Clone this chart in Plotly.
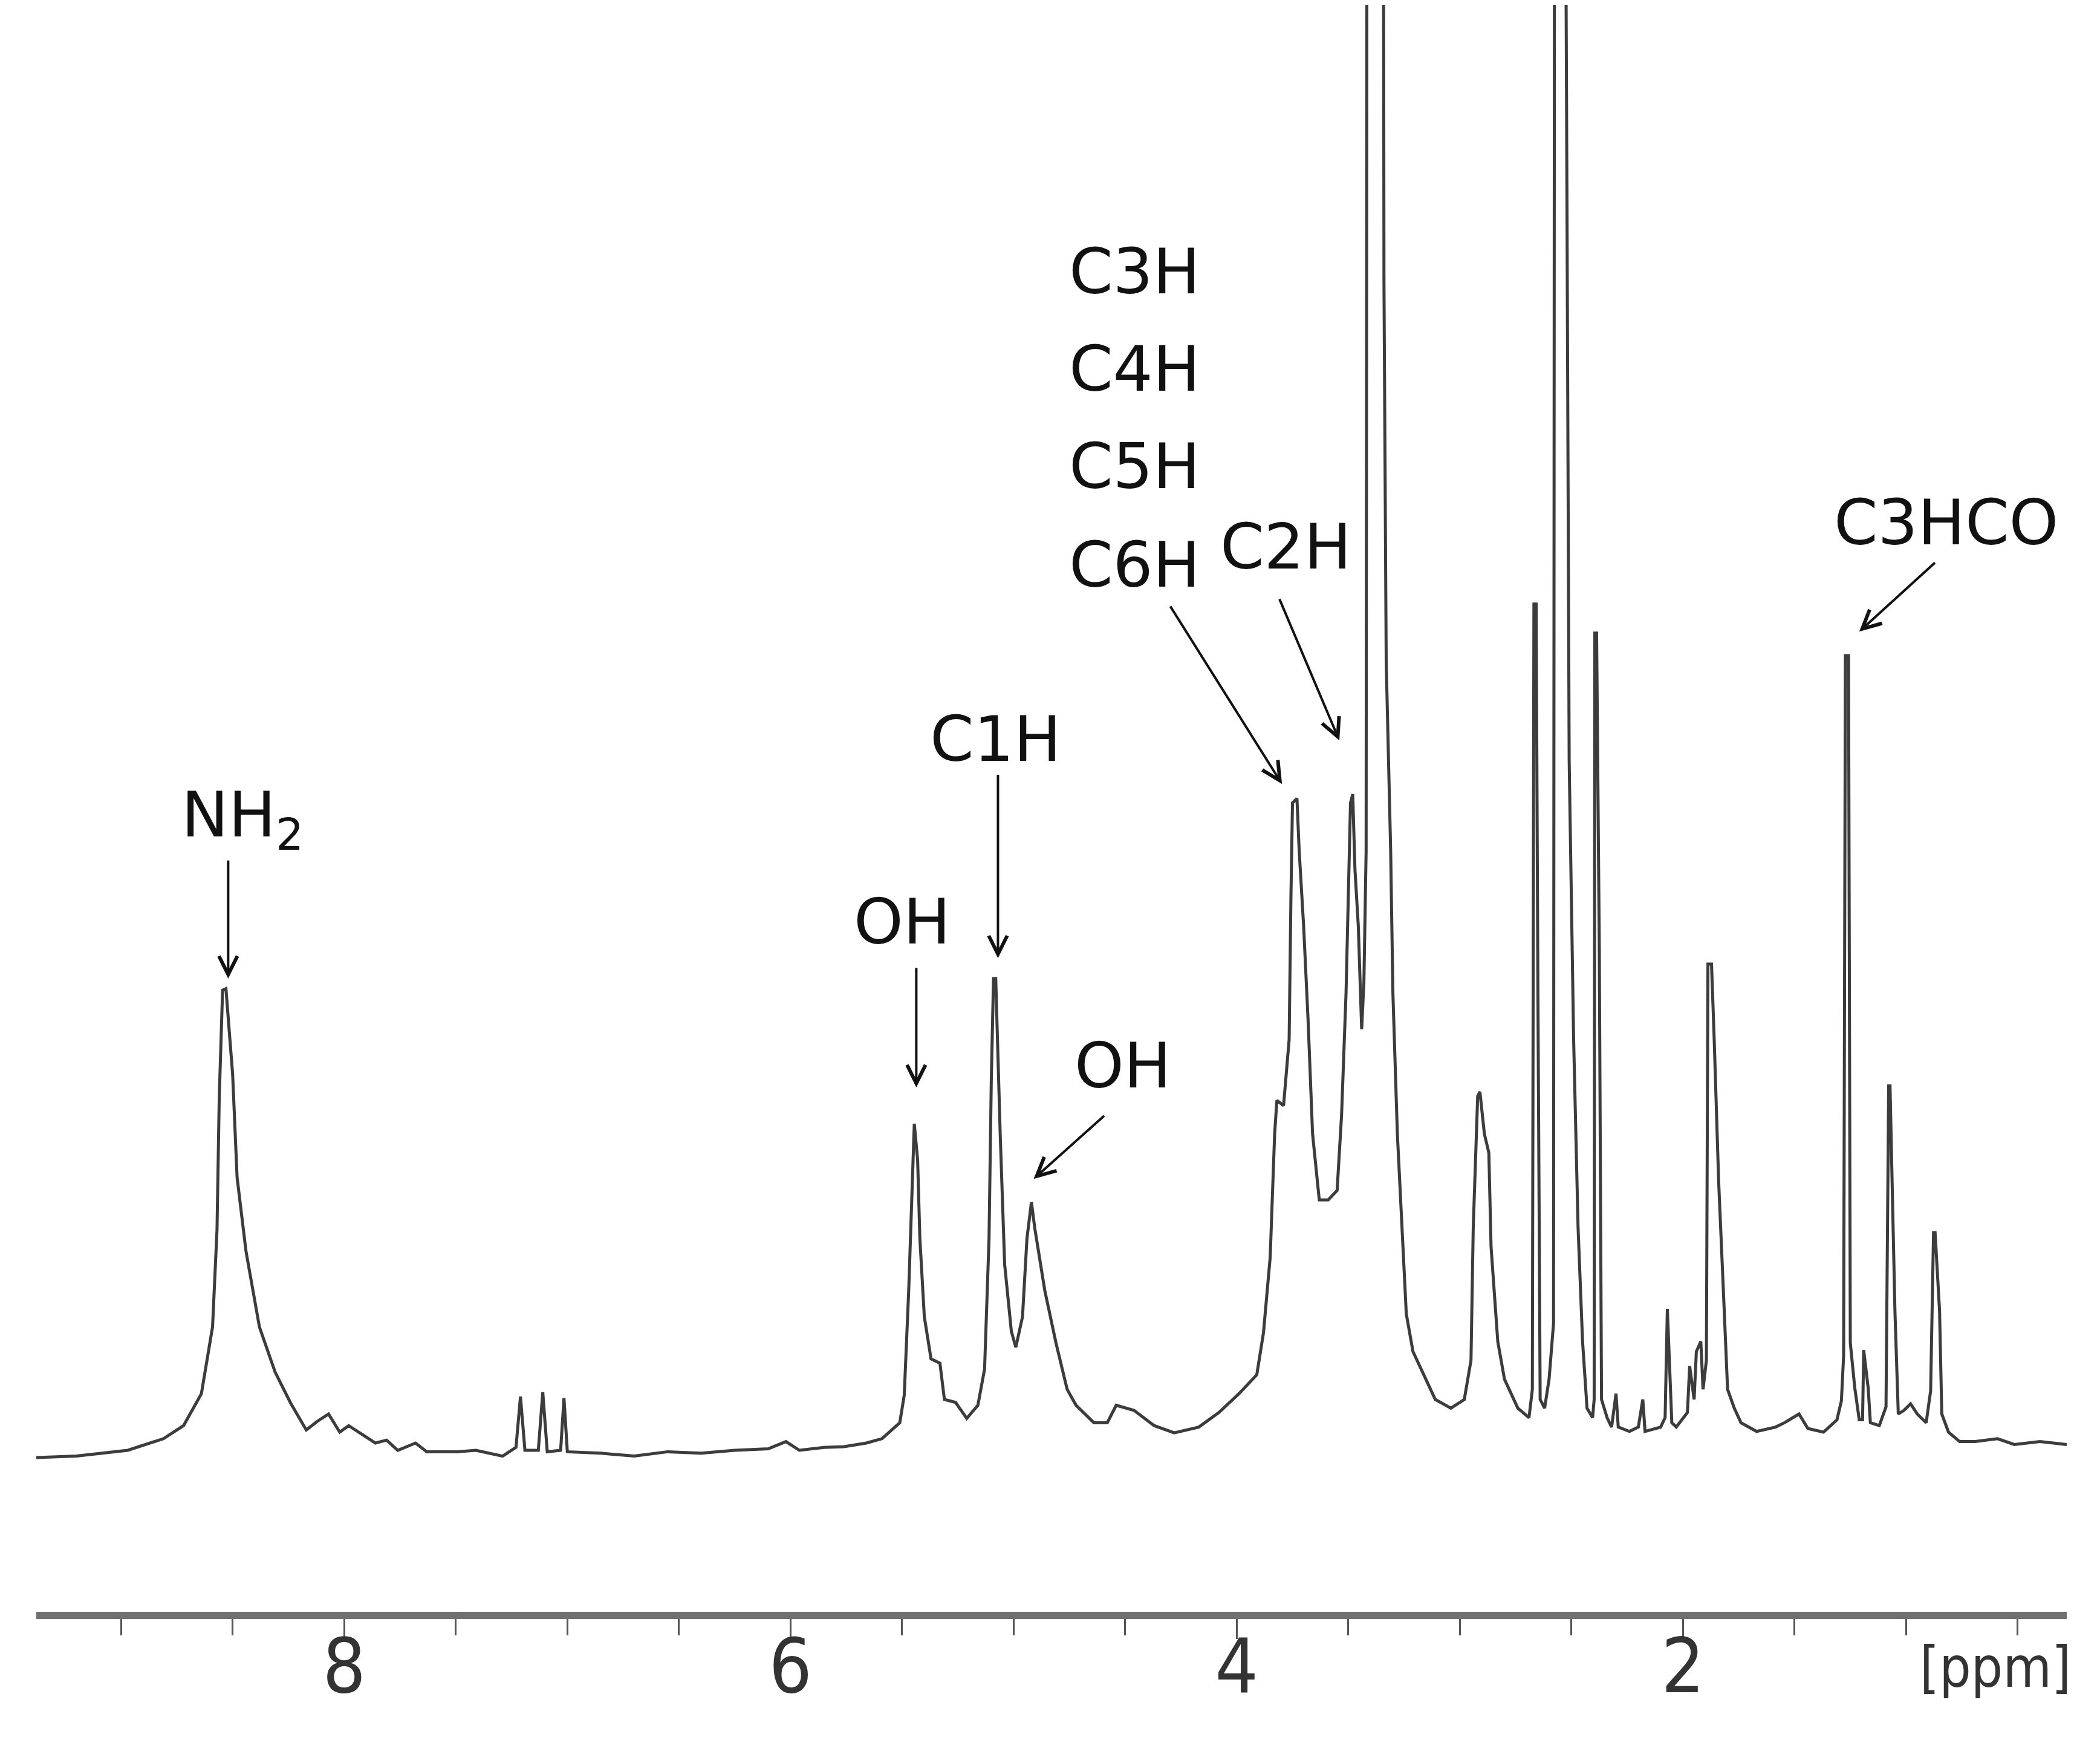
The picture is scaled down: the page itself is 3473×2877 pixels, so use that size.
import plotly.graph_objects as go

# 1H NMR spectrum (chemical shift in ppm, relative intensity)
ppm = [
    9.38, 9.20, 8.97, 8.81, 8.72, 8.64, 8.59, 8.57, 8.56, 8.545, 8.53, 8.50, 8.48, 8.44, 8.38,
    8.31, 8.24, 8.17, 8.12, 8.07, 8.02, 7.98, 7.92, 7.86, 7.81, 7.76, 7.68, 7.63, 7.49, 7.41,
    7.29, 7.23, 7.21, 7.19, 7.13, 7.11, 7.09, 7.03, 7.015, 7.00, 6.85, 6.70, 6.55, 6.40, 6.25,
    6.10, 6.02, 5.96, 5.85, 5.76, 5.66, 5.59, 5.51, 5.49, 5.47, 5.455, 5.445, 5.43, 5.42, 5.40,
    5.37, 5.33, 5.31, 5.26, 5.21, 5.16, 5.13, 5.11, 5.10, 5.09, 5.08, 5.06, 5.04, 5.01, 4.99,
    4.96, 4.94, 4.92, 4.905, 4.86, 4.81, 4.76, 4.72, 4.64, 4.58, 4.54, 4.46, 4.37, 4.28, 4.17,
    4.08, 3.99, 3.91, 3.88, 3.85, 3.83, 3.82, 3.79, 3.765, 3.757, 3.75, 3.73, 3.72, 3.70, 3.68,
    3.66, 3.63, 3.59, 3.55, 3.53, 3.51, 3.49, 3.48, 3.47, 3.455, 3.44, 3.43, 3.42, 3.415, 3.38,
    3.344, 3.34, 3.33, 3.31, 3.30, 3.28, 3.26, 3.24, 3.21, 3.17, 3.11, 3.04, 2.98, 2.95, 2.94,
    2.92, 2.91, 2.89, 2.87, 2.86, 2.83, 2.80, 2.74, 2.69, 2.675, 2.668, 2.658, 2.65, 2.64, 2.62,
    2.60, 2.58, 2.575, 2.555, 2.532, 2.52, 2.51, 2.49, 2.47, 2.45, 2.43, 2.405, 2.398, 2.395, 2.387,
    2.375, 2.365, 2.34, 2.32, 2.30, 2.29, 2.24, 2.20, 2.18, 2.17, 2.10, 2.08, 2.07, 2.05, 2.03,
    1.98, 1.97, 1.95, 1.94, 1.92, 1.91, 1.895, 1.888, 1.872, 1.86, 1.84, 1.82, 1.80, 1.77, 1.74,
    1.67, 1.585, 1.545, 1.48, 1.44, 1.37, 1.31, 1.29, 1.28, 1.272, 1.258, 1.25, 1.23, 1.21, 1.195,
    1.19, 1.17, 1.16, 1.12, 1.09, 1.078, 1.072, 1.05, 1.035, 1.01, 0.98, 0.95, 0.91, 0.89, 0.877,
    0.87, 0.85, 0.84, 0.81, 0.76, 0.69, 0.59, 0.515, 0.40, 0.28,
]
intensity = [
    0.0, 0.1, 0.5, 1.3, 2.2, 4.4, 9.0, 15.7, 24.8, 32.2, 32.3, 26.4, 19.3, 14.2, 9.0,
    5.9, 3.75, 1.9, 2.5, 3.0, 1.75, 2.2, 1.6, 1.0, 1.2, 0.5, 1.0, 0.4, 0.4, 0.5,
    0.1, 0.7, 4.2, 0.5, 0.5, 4.5, 0.4, 0.5, 4.1, 0.4, 0.3, 0.1, 0.4, 0.3, 0.5,
    0.6, 1.1, 0.5, 0.7, 0.75, 1.0, 1.3, 2.4, 4.3, 11.5, 18.7, 23.0, 20.5, 15.1, 9.7,
    6.8, 6.5, 4.0, 3.8, 2.7, 3.6, 6.1, 15.1, 25.9, 33.0, 33.0, 22.3, 13.3, 8.7, 7.6,
    9.7, 15.1, 17.6, 15.8, 11.5, 7.9, 4.7, 3.6, 2.4, 2.4, 3.6, 3.25, 2.2, 1.7, 2.1,
    3.1, 4.4, 5.7, 8.6, 13.8, 22.3, 24.6, 24.25, 28.8, 38.6, 45.1, 45.4, 41.8, 36.6, 30.1,
    22.3, 17.75, 17.75, 18.4, 23.6, 32.0, 45.1, 45.7, 40.5, 36.6, 29.5, 32.7, 41.8, 130.0, 300.0,
    130.0, 80.9, 54.8, 41.8, 32.0, 22.3, 15.8, 9.9, 7.3, 6.0, 4.0, 3.4, 4.0, 6.7, 15.8,
    24.9, 25.2, 22.3, 21.0, 14.5, 8.0, 5.4, 3.4, 2.75, 4.7, 58.8, 58.8, 32.0, 4.0, 3.4,
    5.4, 9.25, 130.0, 250.0, 130.0, 87.0, 48.0, 28.8, 15.8, 8.0, 3.4, 2.75, 4.0, 56.8, 56.8,
    35.3, 4.0, 2.75, 2.1, 4.4, 2.1, 1.8, 2.1, 4.0, 1.8, 2.1, 2.75, 10.25, 2.4, 2.1,
    3.1, 6.3, 4.0, 7.3, 8.0, 4.7, 6.7, 34.0, 34.0, 28.8, 19.0, 11.9, 4.7, 3.4, 2.4,
    1.8, 2.1, 2.4, 3.0, 2.0, 1.75, 2.6, 3.9, 7.0, 55.25, 55.25, 7.9, 4.8, 2.6, 2.6,
    7.4, 4.8, 2.4, 2.2, 3.5, 25.6, 25.6, 10.1, 3.0, 3.25, 3.7, 3.0, 2.4, 4.6, 15.5,
    15.5, 10.1, 3.0, 1.75, 1.1, 1.1, 1.3, 0.9, 1.1, 0.9,
]

fig = go.Figure()
fig.add_trace(go.Scatter(x=ppm, y=intensity, mode='lines',
                         line=dict(color='#3c3c3c', width=5), hoverinfo='skip'))

label_font = dict(family='DejaVu Sans', size=104, color='#111111')
axis_font = 'DejaVu Sans Condensed, Liberation Sans, sans-serif'

# peak labels
labels = [
    ('NH<sub>2</sub>', 8.455, 44.0),
    ('OH', 5.50, 36.9),
    ('C1H', 5.08, 49.5),
    ('OH', 4.51, 27.0),
    ('C3H', 4.458, 81.7),
    ('C4H', 4.458, 75.0),
    ('C5H', 4.458, 68.3),
    ('C6H', 4.458, 61.5),
    ('C2H', 3.78, 62.75),
    ('C3HCO', 0.82, 64.4),
]
for text, lx, ly in labels:
    fig.add_annotation(x=lx, y=ly, xref='x', yref='y', text=text, showarrow=False,
                       font=label_font, xanchor='center', yanchor='middle')

# arrows: (tip_x, tip_y, tail_x, tail_y)
arrows = [
    (8.52, 33.0, 8.52, 41.2),
    (5.436, 25.5, 5.436, 33.8),
    (5.07, 34.4, 5.07, 47.1),
    (4.91, 19.2, 4.59, 23.6),
    (3.797, 46.4, 4.30, 58.7),
    (3.54, 49.4, 3.81, 59.2),
    (1.21, 56.9, 0.867, 61.7),
]
for tx, ty, sx, sy in arrows:
    fig.add_annotation(x=tx, y=ty, ax=sx, ay=sy, xref='x', yref='y', axref='x', ayref='y',
                       text='', showarrow=True, arrowhead=5, arrowsize=1.5,
                       arrowwidth=4, arrowcolor='#111111')

fig.add_annotation(x=0.60, y=-0.035, xref='x', yref='paper', text='[ppm]', showarrow=False,
                   font=dict(family=axis_font, size=92, color='#333333'),
                   xanchor='center', yanchor='middle')

# page body has an 8px margin, so the figure is sized to fit inside the window
fig.update_layout(
    width=3465, height=2869,
    margin=dict(l=52, r=55, t=0, b=212),
    plot_bgcolor='white', paper_bgcolor='white',
    showlegend=False,
    xaxis=dict(range=[9.38, 0.28], showgrid=False, zeroline=False,
               showline=True, linecolor='#707070', linewidth=12,
               ticks='outside', tick0=0, dtick=2, ticklen=33, tickwidth=3, tickcolor='#555555',
               ticklabelstandoff=-62,
               tickfont=dict(family=axis_font, size=125, color='#333333'),
               minor=dict(ticks='outside', tick0=0, dtick=0.5, ticklen=27, tickwidth=3,
                          tickcolor='#555555')),
    yaxis=dict(range=[-10.625, 100.08], visible=False),
)

fig.write_html("out.html")
